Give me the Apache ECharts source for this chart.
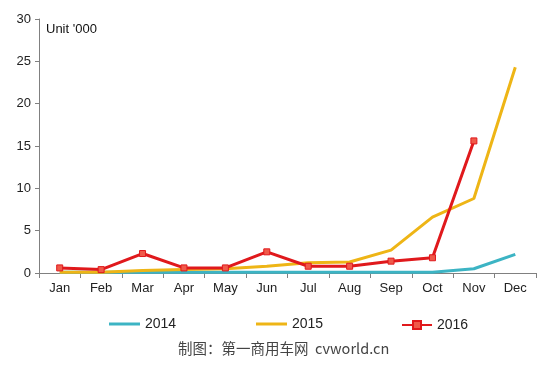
<!DOCTYPE html>
<html><head><meta charset="utf-8">
<script src="https://cdn.jsdelivr.net/npm/echarts@6/dist/echarts.min.js"></script>
<style>html,body{margin:0;padding:0;background:#fff}#c{width:550px;height:365px}</style>
</head><body><div id="c"></div>
<script>
var months = ['Jan','Feb','Mar','Apr','May','Jun','Jul','Aug','Sep','Oct','Nov','Dec'];
var s2014 = [0.1,0.1,0.1,0.1,0.1,0.1,0.1,0.1,0.1,0.1,0.5,2.2];
var s2015 = [0.1,0.1,0.3,0.4,0.5,0.8,1.2,1.3,2.7,6.6,8.8,24.3];
var s2016 = [0.6,0.4,2.3,0.6,0.6,2.5,0.8,0.8,1.4,1.8,15.6,null];
var yTicks = [0,5,10,15,20,25,30];
var chart = echarts.init(document.getElementById('c'));
var font = 'Liberation Sans, Arial, sans-serif';
var lt = {fontSize:14,fontFamily:font,color:'#222'};
chart.setOption({
  animation:false,
  grid:{left:39,right:14,top:19,bottom:92,containLabel:false},
  xAxis:{type:'category',data:months,boundaryGap:true,
    axisLine:{lineStyle:{color:'#808080',width:1}},
    axisTick:{show:true,alignWithLabel:false,length:5,lineStyle:{color:'#808080'}},
    axisLabel:{color:'#222',fontSize:13,fontFamily:font,margin:9}},
  yAxis:{type:'value',min:0,max:30,interval:5,
    axisLine:{show:true,lineStyle:{color:'#808080'}},
    axisTick:{show:true,inside:false,length:4,lineStyle:{color:'#808080'}},
    splitLine:{show:false},
    axisLabel:{color:'#222',fontSize:13,fontFamily:font,margin:8}},
  graphic:[
    {type:'text',left:46,top:23,style:{text:"Unit '000",fontSize:13,fontFamily:font,fill:'#111'}},
    {type:'text',left:178,top:341,style:{text:'制图：第一商用车网  cvworld.cn',fontSize:14.5,fontFamily:'Noto Sans CJK SC, sans-serif',fill:'#444'}}
  ],
  legend:[
    {data:[{name:'2014',icon:'rect'}],left:104,top:312,itemWidth:31,itemHeight:3,itemGap:2,textStyle:lt},
    {data:[{name:'2015',icon:'rect'}],left:251,top:312,itemWidth:31,itemHeight:3,textStyle:lt},
    {data:['2016'],left:396,top:313,itemWidth:30,itemHeight:10,textStyle:lt}
  ],
  series:[
    {name:'2014',type:'line',data:s2014,symbol:'none',lineStyle:{color:'#3cb4c4',width:3},itemStyle:{color:'#3cb4c4'},z:2},
    {name:'2015',type:'line',data:s2015,symbol:'none',lineStyle:{color:'#eeb516',width:3},itemStyle:{color:'#eeb516'},z:3},
    {name:'2016',type:'line',data:s2016,symbol:'rect',symbolSize:6,showSymbol:true,
      lineStyle:{color:'#e0191c',width:3},itemStyle:{color:'#f05a4a',borderColor:'#e0191c',borderWidth:1},z:4}
  ]
});
</script></body></html>
